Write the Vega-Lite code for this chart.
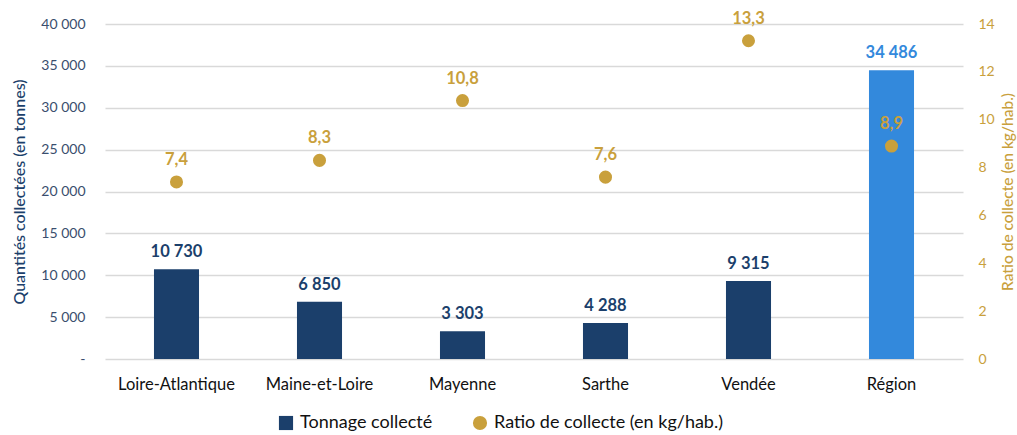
{
  "$schema": "https://vega.github.io/schema/vega-lite/v6.json",
  "autosize": "none",
  "width": 858,
  "height": 335,
  "padding": {"left": 105, "top": 24, "right": 54, "bottom": 76},
  "background": "white",
  "config": {
    "locale": {"number": {"decimal": ",", "thousands": " ", "grouping": [3], "currency": ["", " €"]}},
    "font": "Lato",
    "view": {"stroke": null}
  },
  "data": {
    "values": [
      {"zone": "Loire-Atlantique", "tonnage": 10730, "ratio": 7.4},
      {"zone": "Maine-et-Loire", "tonnage": 6850, "ratio": 8.3},
      {"zone": "Mayenne", "tonnage": 3303, "ratio": 10.8},
      {"zone": "Sarthe", "tonnage": 4288, "ratio": 7.6},
      {"zone": "Vendée", "tonnage": 9315, "ratio": 13.3},
      {"zone": "Région", "tonnage": 34486, "ratio": 8.9}
    ]
  },
  "encoding": {
    "x": {
      "field": "zone", "type": "nominal", "sort": null,
      "scale": {"paddingInner": 0.685, "paddingOuter": 0.3425},
      "axis": {"title": null, "labelAngle": 0, "domain": false, "ticks": false, "labelFontSize": 16.5, "labelColor": "#111111", "labelPadding": 17}
    }
  },
  "layer": [
    {
      "layer": [
        {
          "mark": {"type": "bar"},
          "encoding": {
            "y": {
              "field": "tonnage", "type": "quantitative",
              "scale": {"domain": [0, 40000]},
              "axis": {
                "title": "Quantités collectées (en tonnes)",
                "titleColor": "#1B3F6B", "titleFontSize": 16, "titleFontWeight": 500, "titlePadding": 13,
                "values": [0, 5000, 10000, 15000, 20000, 25000, 30000, 35000, 40000],
                "format": ",.0f",
                "labelExpr": "datum.value === 0 ? '-' : datum.label",
                "labelColor": "#3A4E6E", "labelFontSize": 14, "labelPadding": 20,
                "ticks": false, "domain": false,
                "grid": true, "gridColor": "#D9D9D9", "gridWidth": 1.5
              }
            },
            "color": {
              "condition": {"test": "datum.zone === 'Région'", "value": "#3389DC"},
              "datum": "Tonnage collecté",
              "type": "nominal",
              "scale": {"domain": ["Tonnage collecté", "Ratio de collecte (en kg/hab.)"], "range": ["#1B3F6B", "#C9A03C"]},
              "legend": {
                "title": null, "orient": "none", "legendX": 172, "legendY": 390, "direction": "horizontal",
                "labelFontSize": 18, "labelColor": "#111111", "symbolSize": 200, "labelLimit": 400,
                "columnPadding": 38, "labelOffset": 5,
                "symbolOpacity": 1,
                "encode": {"symbols": {"update": {"shape": {"signal": "datum.value === 'Tonnage collecté' ? 'square' : 'circle'"}, "strokeWidth": {"value": 0}}}}
              }
            }
          }
        },
        {
          "mark": {"type": "text", "baseline": "bottom", "dy": -9, "fontSize": 16.5, "fontWeight": "bold"},
          "encoding": {
            "y": {"field": "tonnage", "type": "quantitative"},
            "text": {"field": "tonnage", "type": "quantitative", "format": ",.0f"},
            "color": {"condition": {"test": "datum.zone === 'Région'", "value": "#3389DC"}, "value": "#1B3F6B"}
          }
        }
      ]
    },
    {
      "layer": [
        {
          "mark": {"type": "point", "filled": true, "size": 170, "opacity": 1},
          "encoding": {
            "y": {
              "field": "ratio", "type": "quantitative",
              "scale": {"domain": [0, 14]},
              "axis": {
                "title": "Ratio de collecte (en kg/hab.)", "orient": "right", "titleAngle": 270, "titleBaseline": "top",
                "titleColor": "#C9A03C", "titleFontSize": 15.5, "titleFontWeight": 500, "titlePadding": 6,
                "values": [0, 2, 4, 6, 8, 10, 12, 14],
                "labelColor": "#C9A03C", "labelFontSize": 14, "labelPadding": 15,
                "ticks": false, "domain": false, "grid": false
              }
            },
            "color": {"datum": "Ratio de collecte (en kg/hab.)", "type": "nominal"}
          }
        },
        {
          "mark": {"type": "text", "baseline": "bottom", "dy": -14, "fontSize": 16.5, "fontWeight": "bold", "color": "#C9A03C"},
          "encoding": {
            "y": {"field": "ratio", "type": "quantitative"},
            "text": {"field": "ratio", "type": "quantitative", "format": ".1f"}
          }
        }
      ]
    }
  ],
  "resolve": {"scale": {"y": "independent"}}
}
